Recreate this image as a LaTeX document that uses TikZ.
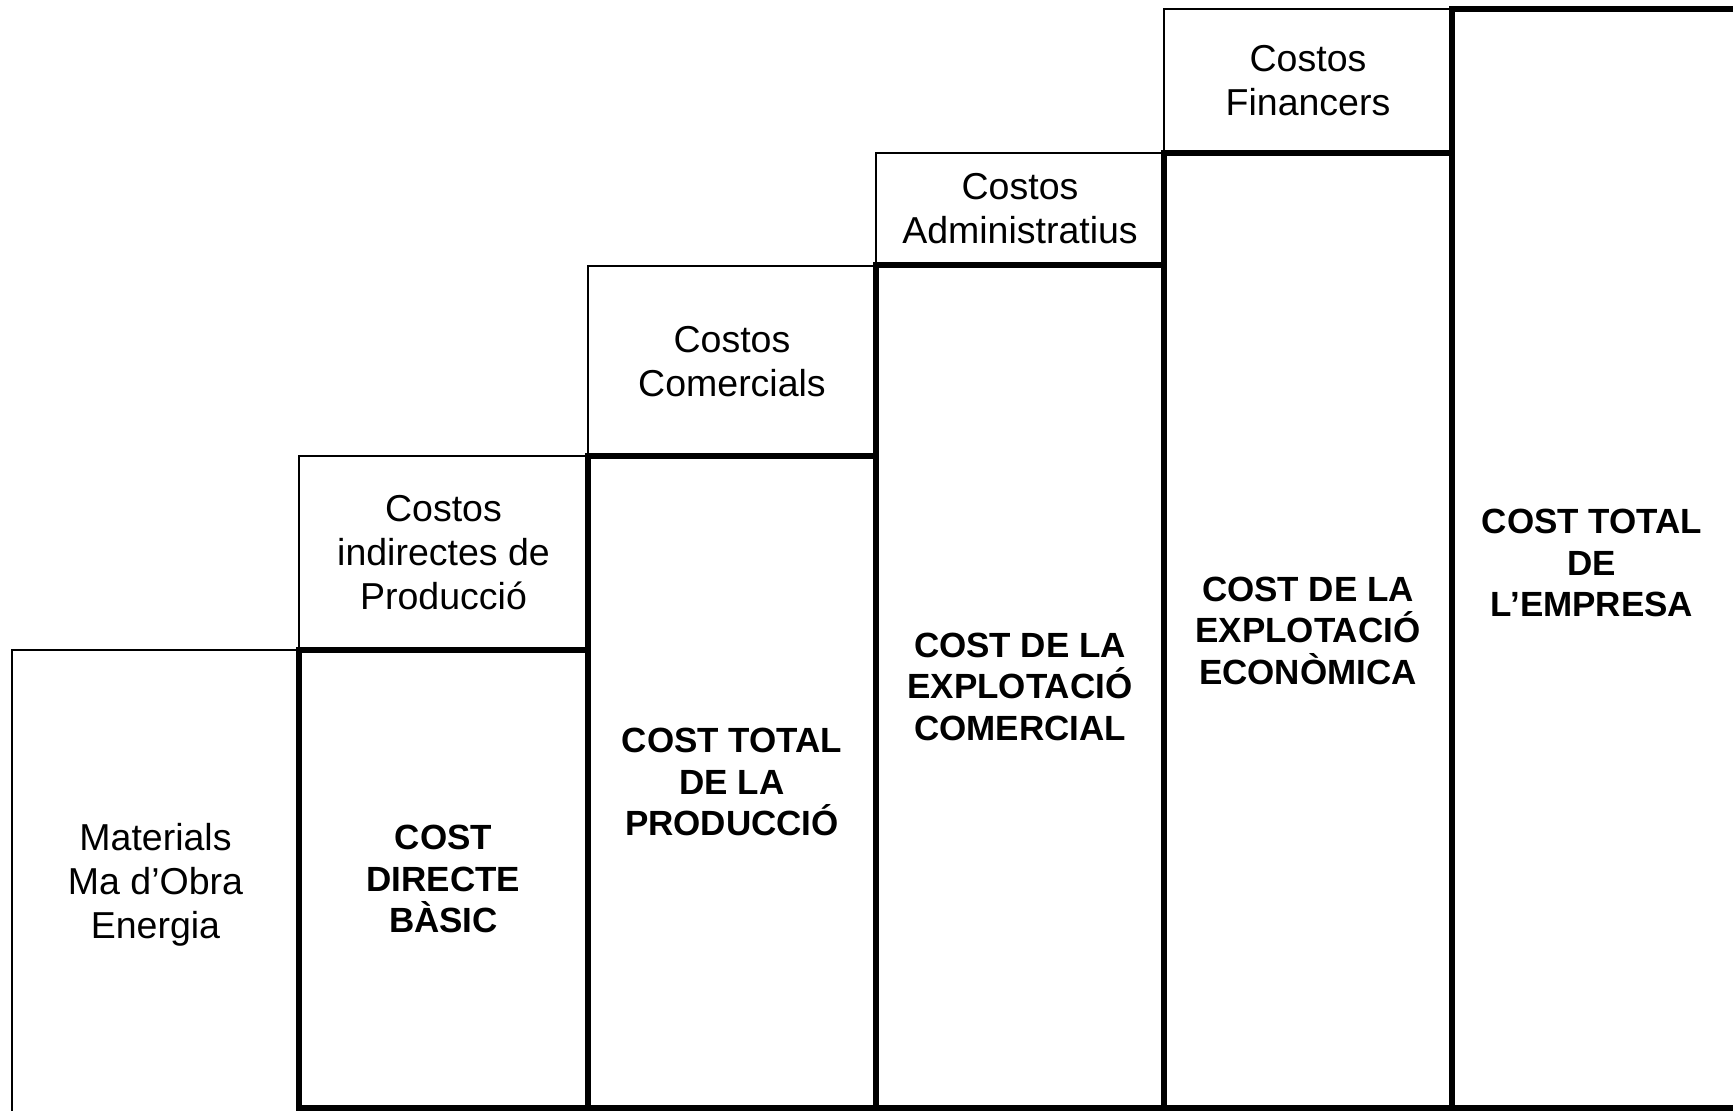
\documentclass[tikz,border=0pt]{standalone}
\usepackage{fontspec}
\setmainfont{Liberation Sans}
\begin{document}
\begin{tikzpicture}[x=1pt,y=-1pt,
  thinbox/.style={draw=black,line width=1.2pt,inner sep=0pt,outer sep=0pt,align=center,
    font=\fontsize{37.5}{44}\selectfont},
  thickbox/.style={draw=black,line width=6pt,inner sep=0pt,outer sep=0pt,align=center,
    font=\fontsize{35}{41.5}\selectfont\bfseries},
  boldtext/.style={inner sep=0pt,align=center,font=\fontsize{35}{41.5}\selectfont\bfseries}]
\useasboundingbox (0,0) rectangle (1733,1111);
\clip (0,0) rectangle (1733,1111);
% thin boxes
\node[thinbox,minimum width=287pt,minimum height=470pt] (mat) at (155.5,885) {Materials\\Ma d’Obra\\Energia};
\node[thinbox,minimum width=289pt,minimum height=194pt] (cip) at (443.5,553) {Costos\\indirectes de\\Producció};
\node[thinbox,minimum width=288pt,minimum height=191pt] (ccom) at (732,361.5) {Costos\\Comercials};
\node[thinbox,minimum width=288pt,minimum height=112pt] (cadm) at (1020,209) {Costos\\Administratius};
\node[thinbox,minimum width=288pt,minimum height=144pt] (cfin) at (1308,81) {Costos\\Financers};
% thick boxes
\node[thickbox,minimum width=289pt,minimum height=458pt] (cdb) at (443.5,879) {COST\\DIRECTE\\BÀSIC};
\node[thickbox,minimum width=288pt,minimum height=652pt] (ctp) at (732,782) {COST TOTAL\\DE LA\\PRODUCCIÓ};
\node[thickbox,minimum width=288pt,minimum height=843pt] (cec) at (1020,686.5) {COST DE LA\\EXPLOTACIÓ\\COMERCIAL};
\node[thickbox,minimum width=288pt,minimum height=955pt] (cee) at (1308,630.5) {COST DE LA\\EXPLOTACIÓ\\ECONÒMICA};
\node[thickbox,minimum width=300pt,minimum height=1099pt] (cte) at (1602,558.5) {};
\node[boldtext] (ctelabel) at (1592,563) {COST TOTAL\\DE\\L’EMPRESA};
\end{tikzpicture}
\end{document}
